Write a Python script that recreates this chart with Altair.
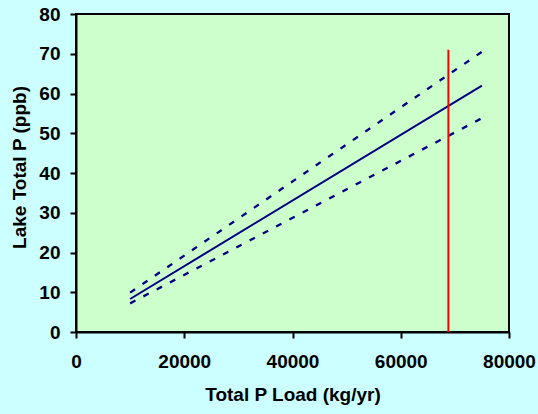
import altair as alt
import pandas as pd

# Load range of the regression and its predicted lake P with confidence limits
load_kg_yr = [10000, 75000]
predicted_ppb = [8.3, 62.0]
upper_ppb = [9.9, 70.5]
lower_ppb = [7.2, 53.8]

# Current load marker
current_load = [68800]
marker_bottom = [0]
marker_top = [71]

x_ticks = [0, 20000, 40000, 60000, 80000]
y_ticks = [0, 10, 20, 30, 40, 50, 60, 70, 80]

FONT = "Liberation Sans"
NAVY = "#000080"

fit = pd.DataFrame({"load": load_kg_yr, "pred": predicted_ppb,
                    "upper": upper_ppb, "lower": lower_ppb})
marker = pd.DataFrame({"load": current_load, "lo": marker_bottom, "hi": marker_top})

x_scale = alt.Scale(domain=[0, 80000], nice=False, zero=True)
y_scale = alt.Scale(domain=[0, 80], nice=False)

x_axis = alt.Axis(values=x_ticks, format="d", title="Total P Load (kg/yr)",
                  titleY=68.5, titleBaseline="alphabetic",
                  labelPadding=14, labelOverlap=False, labelFlush=False)
y_axis = alt.Axis(values=y_ticks, title="Lake Total P (ppb)",
                  titleX=-51, titleY=153, titleAngle=-90,
                  titleBaseline="alphabetic", titleAlign="center",
                  labelPadding=10, labelOverlap=False, labelFlush=False)


def x_enc(field):
    return alt.X(field, type="quantitative", scale=x_scale, axis=x_axis)


def y_enc(field):
    return alt.Y(field, type="quantitative", scale=y_scale, axis=y_axis)


base = alt.Chart(fit)

pred_line = base.mark_line(color=NAVY, strokeWidth=2).encode(
    x=x_enc("load"), y=y_enc("pred"),
)
upper_line = base.mark_line(color=NAVY, strokeWidth=2.3, strokeDash=[6, 9]).encode(
    x=x_enc("load"), y=y_enc("upper"),
)
lower_line = base.mark_line(color=NAVY, strokeWidth=2.3, strokeDash=[6, 9]).encode(
    x=x_enc("load"), y=y_enc("lower"),
)
load_rule = alt.Chart(marker).mark_rule(color="#FF0000", strokeWidth=2).encode(
    x=x_enc("load"), y=y_enc("lo"), y2="hi:Q",
)

chart = (
    alt.layer(pred_line, upper_line, lower_line, load_rule)
    .properties(
        width=433, height=318,
        background="#CCFFFF",
        autosize=alt.AutoSizeParams(type="none"),
        padding={"left": 76, "top": 14, "right": 29, "bottom": 82},
    )
    .configure_view(fill="#CCFFCC", stroke="black", strokeWidth=2)
    .configure_axis(
        grid=False,
        domainColor="black", domainWidth=2,
        tickColor="black", tickWidth=2, tickSize=6,
        labelFont=FONT, labelFontSize=19, labelFontWeight="bold", labelColor="black",
        titleFont=FONT, titleFontSize=19, titleFontWeight="bold", titleColor="black",
    )
)

chart.save("out.html", embed_options={"renderer": "svg", "actions": False})
